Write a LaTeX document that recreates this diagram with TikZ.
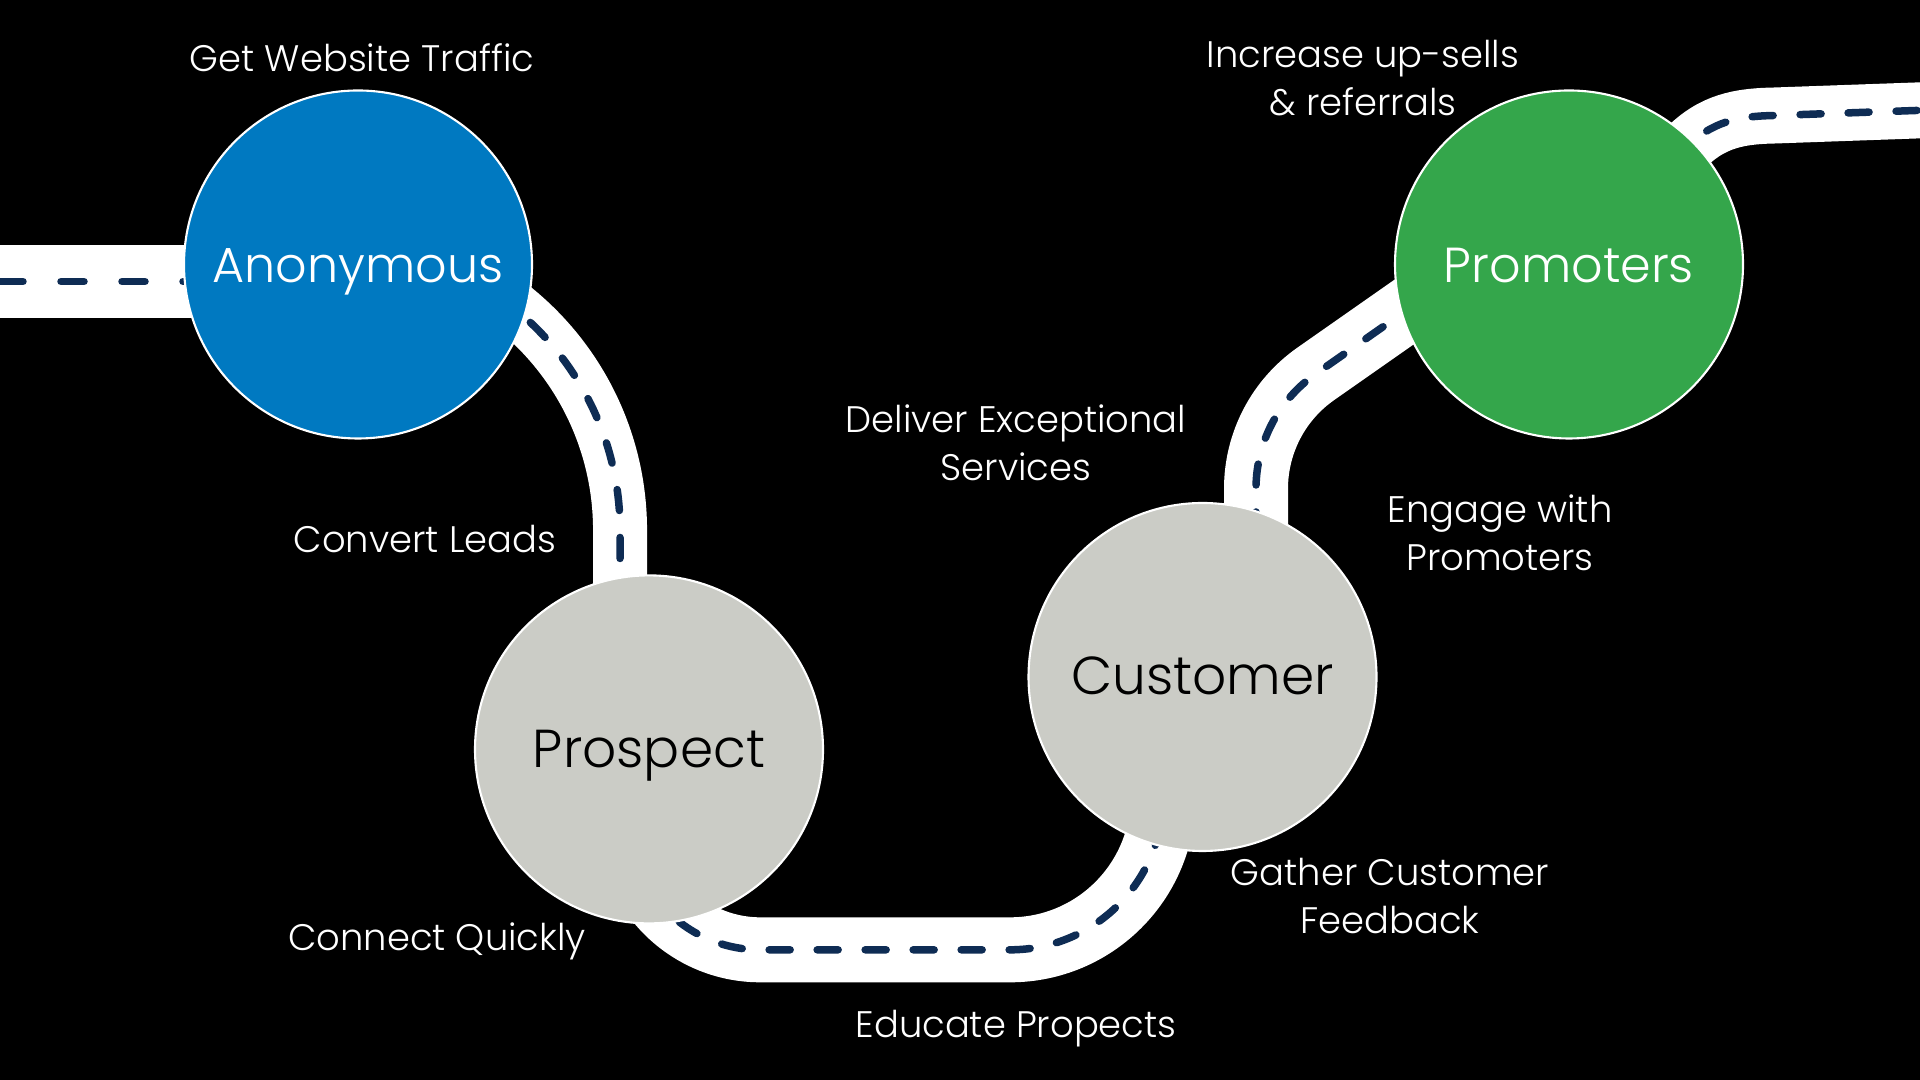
\documentclass[tikz,border=0pt]{standalone}
\usepackage{fontspec}
\IfFontExistsTF{Poppins Light}{\setmainfont{Poppins Light}}{\setmainfont{Poppins}}
\usetikzlibrary{positioning}
\definecolor{anonblue}{HTML}{0079C1}
\definecolor{stagegray}{HTML}{CBCCC6}
\definecolor{promogreen}{HTML}{34A64B}
\definecolor{lanenavy}{HTML}{0E2C54}
\pgfdeclarelayer{road}
\pgfsetlayers{road,main}

\begin{document}
\begin{tikzpicture} [
    stage/.style = {circle, draw=white, line width=0.6pt, minimum size=3.48cm,
        inner sep=0pt, text height=0.36cm, text depth=0pt,
        font=\fontsize{14}{17}\selectfont},
    graystage/.style = {stage, fill=stagegray, font=\fontsize{15.2}{18}\selectfont},
    note/.style = {text=white, align=center, font=\fontsize{10.5}{13.7}\selectfont},
    road/.style = {draw=white, solid, line cap=butt, line width=#1},
    lane/.style = {draw=lanenavy, line width=0.075cm, line cap=round,
        dash pattern=on 0.21cm off 0.27cm}]
    \useasboundingbox (0,0) rectangle (19.2,10.8);

    \node (anon) [stage, fill=anonblue, text=white] at (3.58,8.155) {Anonymous};
    \node (prosp) [graystage] at (6.49,3.306) {Prospect};
    \node (cust) [graystage] at (12.025,4.03) {Customer};
    \node (promo) [stage, fill=promogreen, text=white] at (15.69,8.155) {Promoters};

    \coordinate (inL) at (0,7.985);
    \coordinate (outR) at (19.3,9.7);

    \node (traffic) [note] at (3.62,10.225) {Get Website Traffic};
    \node (upsell) [note] at (13.63,10.02) {Increase up-sells\\\& referrals};
    \node (convert) [note] at (4.25,5.41) {Convert Leads};
    \node (deliver) [note] at (10.16,6.37) {Deliver Exceptional\\Services};
    \node (engage) [note] at (15.0,5.475) {Engage with\\Promoters};
    \node (connect) [note] at (4.37,1.384) {Connect Quickly};
    \node (gather) [note] at (13.9,1.84) {Gather Customer\\Feedback};
    \node (educate) [note] at (10.16,0.514) {Educate Propects};

    \begin{pgfonlayer}{road}
    \fill [black] (0,0) rectangle (19.2,10.8);
    \draw [lane, dash pattern=on 0.23cm off 0.38cm, preaction={road=0.73cm}]
        (inL) -- (inL -| anon);
    \draw [lane, preaction={road=0.54cm}]
        (anon.center) ++(-0.478,0.184)
        arc [start angle=95, end angle=0, radius=2.85cm] |- (prosp.center);
    \draw [lane, preaction={road=0.65cm}]
        (prosp.center) arc [start angle=148, end angle=270, radius=1.31cm]
        -- ++(2.5,0) arc [start angle=270, end angle=360, radius=1.53cm]
        -- (cust.center);
    \draw [lane, preaction={road=0.64cm}]
        (cust.center) ++(0.535,0) -- ++(0,1.884)
        arc [start angle=180, end angle=125, radius=1.4cm] -- ++(35:2.5)
        -- (promo.center);
    \draw [lane, preaction={road=0.56cm}]
        (promo.center) -- ++(45:1.65) to [out=45, in=181] (17.75,9.645) -- (outR);
    \end{pgfonlayer}
\end{tikzpicture}
\end{document}
